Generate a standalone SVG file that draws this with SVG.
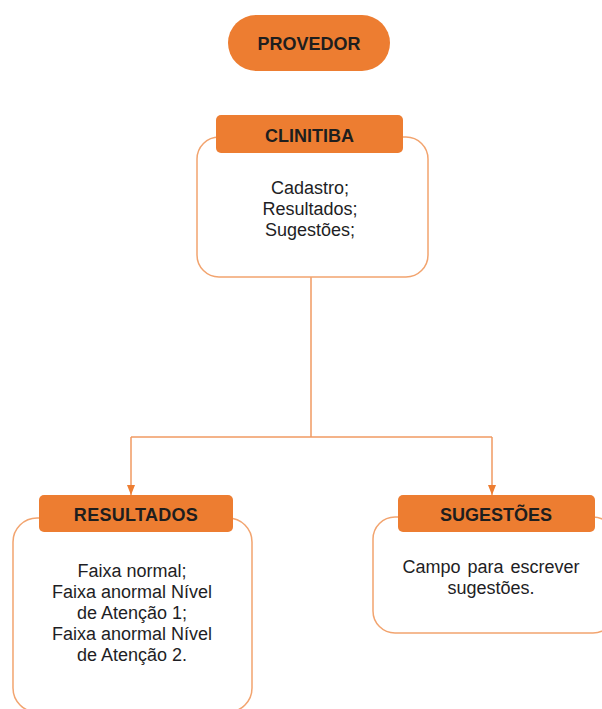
<svg xmlns="http://www.w3.org/2000/svg" width="602" height="709" viewBox="0 0 602 709">
<defs>
<style>
.hdr{fill:#ED7D31;}
.body{fill:#FFFFFF;stroke:#F2A46F;stroke-width:1.5;}
.ht{font-family:"Liberation Sans",Arial,sans-serif;font-weight:bold;font-size:18px;fill:#1E1E1E;text-anchor:middle;}
.bt{font-family:"Liberation Sans",Arial,sans-serif;font-size:18px;fill:#1E1E24;text-anchor:middle;}
.con{fill:none;stroke:#F09A62;stroke-width:1.5;}
</style>
<marker id="arr" viewBox="0 0 10 8" refX="10" refY="4" markerWidth="10" markerHeight="8" markerUnits="userSpaceOnUse" orient="auto">
<path d="M0,0 L10,4 L0,8 Z" fill="#ED7D31"/>
</marker>
</defs>
<rect width="602" height="709" fill="#FFFFFF"/>
<g id="connectors">
<path class="con" d="M311,277 V437"/>
<path class="con" d="M131,437 H492"/>
<path class="con" d="M131,437 V495" marker-end="url(#arr)"/>
<path class="con" d="M492,437 V495" marker-end="url(#arr)"/>
</g>
<g id="provedor">
<rect class="hdr" x="228" y="15" width="162" height="56" rx="28"/>
<text class="ht" x="309" y="49.5">PROVEDOR</text>
</g>
<g id="clinitiba">
<rect class="body" x="197" y="137" width="231" height="140" rx="22"/>
<rect class="hdr" x="216" y="115" width="187" height="38" rx="5"/>
<text class="ht" x="309.5" y="141.5">CLINITIBA</text>
<text class="bt" x="310" y="194">Cadastro;</text>
<text class="bt" x="310" y="215">Resultados;</text>
<text class="bt" x="310" y="236">Sugestões;</text>
</g>
<g id="resultados">
<rect class="body" x="13" y="518" width="239" height="194" rx="24"/>
<rect class="hdr" x="39" y="495" width="194" height="37" rx="5"/>
<text class="ht" x="136" y="521" letter-spacing="0.3">RESULTADOS</text>
<text class="bt" x="132" y="576.5">Faixa normal;</text>
<text class="bt" x="132" y="597.5">Faixa anormal Nível</text>
<text class="bt" x="132" y="618.5">de Atenção 1;</text>
<text class="bt" x="132" y="639.5">Faixa anormal Nível</text>
<text class="bt" x="132" y="660.5">de Atenção 2.</text>
</g>
<g id="sugestoes">
<rect class="body" x="373" y="517" width="242" height="116" rx="22"/>
<rect class="hdr" x="398" y="495" width="197" height="37" rx="5"/>
<text class="ht" x="496" y="521">SUGESTÕES</text>
<text class="bt" x="491" y="572.5" word-spacing="2">Campo para escrever</text>
<text class="bt" x="491" y="594">sugestões.</text>
</g>
</svg>
